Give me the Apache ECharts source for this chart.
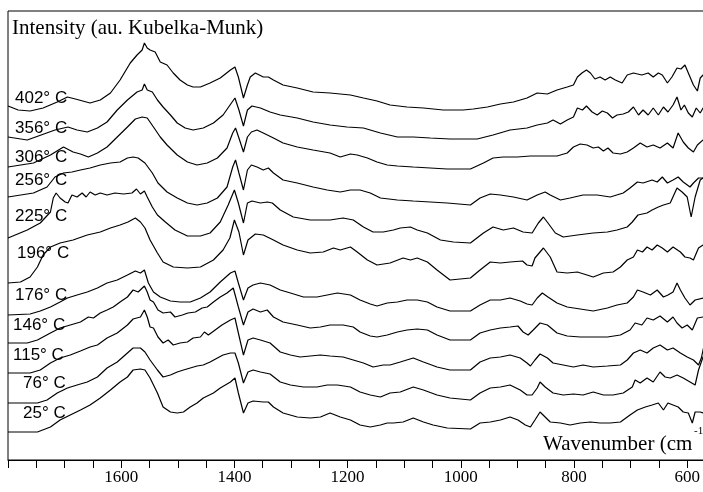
<!DOCTYPE html>
<html><head><meta charset="utf-8">
<script src="https://cdn.jsdelivr.net/npm/echarts@6/dist/echarts.min.js"></script>
<style>html,body{margin:0;padding:0;background:#fff}#c{width:703px;height:492px}</style>
</head><body><div id="c"></div>
<script>
const tempLabels = ['402° C','356° C','306° C','256° C','225° C','196° C','176° C','146° C','115° C','76° C','25° C'];
const tickLabels = [1600, 1400, 1200, 1000, 800, 600];

const s402 = [[1800,354],[1782,350],[1761,349],[1738,352],[1713,358],[1695,363],[1681,361],[1655,357],[1637,360],[1619,367],[1602,380],[1584,397],[1572,405],[1563,410],[1559,417],[1554,412],[1549,410],[1540,408],[1531,398],[1519,395],[1508,387],[1496,380],[1483,375],[1473,373],[1460,373],[1443,377],[1425,382],[1407,390],[1399,393],[1393,383],[1384,362],[1377,375],[1372,383],[1363,387],[1349,383],[1340,383],[1331,380],[1314,375],[1289,372],[1261,368],[1231,367],[1195,365],[1172,362],[1148,359],[1125,355],[1095,353],[1066,352],[1031,350],[996,350],[978,351],[953,353],[930,356],[907,358],[883,362],[865,367],[847,366],[830,370],[812,373],[801,375],[794,383],[786,387],[778,390],[771,387],[763,381],[754,383],[745,380],[736,383],[727,380],[715,377],[706,385],[695,387],[680,385],[669,387],[660,383],[651,387],[644,385],[635,377],[627,383],[618,392],[611,391],[604,395],[598,387],[589,375],[582,369],[577,382],[572,385],[565,386]];
const s356 = [[1800,323],[1766,320],[1717,330],[1694,333],[1678,330],[1660,328],[1642,332],[1625,338],[1607,350],[1589,360],[1572,368],[1563,370],[1559,376],[1554,370],[1545,368],[1536,360],[1526,353],[1513,345],[1501,337],[1487,332],[1473,330],[1455,332],[1437,337],[1420,345],[1404,358],[1399,362],[1392,350],[1384,334],[1377,350],[1369,354],[1354,352],[1337,348],[1319,345],[1289,342],[1261,338],[1231,335],[1201,333],[1172,332],[1142,327],[1112,323],[1084,323],[1054,322],[1019,321],[983,321],[971,321],[943,325],[913,330],[883,332],[865,335],[847,337],[837,340],[824,336],[812,340],[801,343],[794,352],[785,350],[778,354],[768,348],[759,345],[750,349],[741,347],[732,342],[724,345],[713,346],[704,348],[695,353],[686,345],[678,350],[669,345],[660,352],[651,345],[642,353],[634,348],[625,355],[618,363],[611,350],[605,355],[598,347],[591,343],[584,352],[577,347],[572,352],[565,353]];
const s306 = [[1800,293],[1755,297],[1725,305],[1702,313],[1685,308],[1672,306],[1658,303],[1642,307],[1625,313],[1607,323],[1589,333],[1575,341],[1563,343],[1554,342],[1543,333],[1531,323],[1519,315],[1501,305],[1483,298],[1466,295],[1448,297],[1430,302],[1413,312],[1403,327],[1398,332],[1392,322],[1384,308],[1377,323],[1370,328],[1360,330],[1349,327],[1331,322],[1314,317],[1289,313],[1261,310],[1231,307],[1213,303],[1195,306],[1183,305],[1165,302],[1148,298],[1130,295],[1112,294],[1084,293],[1054,292],[1024,291],[983,291],[960,297],[943,302],[925,303],[900,303],[877,304],[854,304],[830,304],[812,307],[801,313],[789,316],[777,315],[766,312],[757,313],[748,309],[740,312],[731,307],[718,306],[706,308],[695,312],[683,317],[671,313],[660,315],[648,312],[635,317],[625,312],[616,327],[607,318],[598,312],[589,308],[582,315],[572,320],[565,321]];
const s256 = [[1800,263],[1755,267],[1731,273],[1717,283],[1702,287],[1687,288],[1672,290],[1655,292],[1637,295],[1619,297],[1602,298],[1589,302],[1579,303],[1570,302],[1558,297],[1545,287],[1535,277],[1519,268],[1501,262],[1483,257],[1466,255],[1448,257],[1430,262],[1413,273],[1403,293],[1398,300],[1392,287],[1384,270],[1377,290],[1370,295],[1360,293],[1349,290],[1340,292],[1331,287],[1314,280],[1289,277],[1261,273],[1236,270],[1213,268],[1195,270],[1178,270],[1160,267],[1142,262],[1112,260],[1084,259],[1054,258],[1024,257],[983,255],[966,262],[948,266],[930,265],[907,263],[883,260],[865,265],[851,268],[842,265],[824,260],[807,262],[784,265],[759,265],[736,263],[713,267],[701,272],[688,278],[678,277],[662,280],[653,278],[644,283],[635,277],[625,280],[616,283],[607,278],[595,273],[589,277],[580,282],[572,282],[565,282]];
const s225 = [[1800,222],[1766,230],[1743,237],[1725,248],[1720,262],[1715,267],[1708,262],[1699,258],[1694,257],[1687,265],[1678,263],[1669,267],[1662,263],[1655,268],[1646,265],[1637,267],[1625,265],[1611,267],[1596,266],[1581,267],[1573,271],[1566,266],[1559,269],[1554,263],[1545,253],[1536,245],[1522,238],[1505,230],[1483,224],[1460,224],[1443,227],[1425,238],[1411,255],[1400,270],[1393,257],[1384,237],[1377,257],[1369,259],[1354,257],[1342,258],[1333,257],[1319,250],[1296,243],[1266,240],[1231,240],[1208,242],[1190,240],[1172,233],[1155,228],[1137,228],[1119,230],[1107,232],[1089,233],[1077,230],[1059,227],[1036,220],[1013,218],[983,217],[960,227],[943,233],[925,230],[907,232],[890,228],[874,227],[863,237],[854,243],[846,237],[833,227],[819,223],[794,225],[766,227],[741,228],[724,230],[706,233],[697,238],[687,245],[671,247],[662,250],[651,253],[642,255],[630,257],[618,272],[609,268],[600,263],[593,243],[586,263],[577,280],[572,282],[565,283]];
const s196 = [[1800,177],[1778,178],[1761,183],[1748,193],[1738,205],[1725,213],[1708,217],[1685,220],[1660,225],[1637,228],[1619,232],[1602,235],[1588,238],[1575,242],[1566,238],[1558,232],[1549,220],[1536,207],[1526,198],[1508,193],[1483,192],[1460,193],[1437,200],[1420,210],[1408,222],[1400,240],[1392,228],[1384,205],[1376,220],[1363,226],[1349,225],[1331,220],[1314,215],[1289,210],[1266,207],[1243,208],[1225,212],[1213,210],[1195,213],[1183,208],[1165,200],[1148,195],[1125,197],[1102,202],[1089,200],[1077,202],[1059,198],[1042,190],[1019,180],[983,182],[966,190],[948,198],[930,197],[913,198],[891,199],[883,195],[874,194],[869,202],[854,212],[842,203],[830,188],[812,187],[794,188],[777,185],[766,183],[748,187],[731,188],[718,193],[706,200],[695,203],[688,210],[679,208],[671,213],[662,210],[653,215],[644,212],[635,208],[625,213],[612,208],[604,203],[595,202],[589,200],[580,212],[572,215],[565,216]];
const s176 = [[1800,145],[1761,146],[1743,149],[1725,153],[1708,158],[1695,162],[1678,165],[1660,168],[1642,172],[1625,177],[1607,180],[1589,185],[1575,189],[1566,187],[1559,190],[1552,177],[1543,168],[1531,163],[1513,159],[1496,158],[1478,158],[1460,162],[1443,168],[1425,178],[1407,187],[1399,189],[1393,177],[1384,160],[1376,172],[1367,175],[1354,177],[1337,175],[1319,170],[1301,167],[1278,163],[1254,163],[1236,165],[1218,167],[1195,165],[1178,160],[1160,156],[1148,154],[1130,157],[1112,158],[1095,160],[1077,160],[1059,158],[1042,153],[1019,149],[983,149],[966,155],[948,160],[930,160],[913,162],[895,159],[883,156],[874,155],[865,162],[856,167],[846,163],[830,157],[812,153],[789,151],[766,149],[741,152],[724,155],[706,157],[695,163],[688,170],[678,168],[665,165],[653,170],[642,163],[634,165],[625,168],[618,177],[612,170],[604,162],[595,155],[586,160],[572,162],[565,162]];
const s146 = [[1800,117],[1766,117],[1748,120],[1725,127],[1708,132],[1690,135],[1672,138],[1658,143],[1649,142],[1637,147],[1625,150],[1614,153],[1602,158],[1589,163],[1579,170],[1570,168],[1559,174],[1554,168],[1549,160],[1543,158],[1535,150],[1526,147],[1513,148],[1505,143],[1492,145],[1482,147],[1469,148],[1457,152],[1448,153],[1437,158],[1425,163],[1413,167],[1402,172],[1399,170],[1393,153],[1384,135],[1376,148],[1367,151],[1354,148],[1342,150],[1331,143],[1314,138],[1289,135],[1266,132],[1248,133],[1231,135],[1208,135],[1190,133],[1178,128],[1160,124],[1148,123],[1130,125],[1112,128],[1095,130],[1077,131],[1059,130],[1042,125],[1019,120],[983,120],[966,127],[948,130],[930,132],[913,133],[899,134],[890,128],[881,125],[872,130],[860,137],[847,135],[830,127],[812,124],[789,123],[766,123],[741,123],[718,125],[701,130],[692,137],[680,135],[671,142],[660,140],[648,144],[635,138],[625,143],[618,137],[609,132],[600,135],[591,130],[582,142],[572,143],[565,143]];
const s115 = [[1800,87],[1761,87],[1743,90],[1725,97],[1708,102],[1690,105],[1672,109],[1655,113],[1642,115],[1625,122],[1607,127],[1589,135],[1579,141],[1566,143],[1559,150],[1554,143],[1549,133],[1543,132],[1535,123],[1526,117],[1517,120],[1508,115],[1496,117],[1483,118],[1473,122],[1460,123],[1453,128],[1446,125],[1434,130],[1422,135],[1407,140],[1399,142],[1393,127],[1384,105],[1376,120],[1367,122],[1354,120],[1337,117],[1319,108],[1301,105],[1284,103],[1266,104],[1248,105],[1231,104],[1208,103],[1190,100],[1172,97],[1155,93],[1137,95],[1125,95],[1107,98],[1084,102],[1066,98],[1042,93],[1019,90],[983,90],[966,98],[948,102],[930,103],[913,105],[895,102],[883,97],[877,94],[869,100],[860,106],[847,102],[837,97],[819,95],[801,93],[784,95],[766,93],[741,94],[718,95],[706,100],[695,107],[683,110],[671,107],[660,112],[648,115],[635,110],[625,112],[612,107],[600,103],[589,100],[580,95],[575,102],[572,110],[565,125]];
const s76 = [[1800,57],[1748,57],[1731,60],[1713,67],[1695,72],[1678,75],[1660,78],[1642,83],[1625,92],[1607,98],[1589,107],[1579,112],[1566,112],[1558,108],[1549,100],[1536,90],[1526,83],[1513,85],[1501,88],[1490,90],[1478,92],[1466,94],[1455,95],[1443,98],[1430,102],[1420,105],[1407,107],[1399,107],[1393,97],[1384,77],[1376,88],[1367,90],[1354,88],[1337,86],[1319,78],[1301,75],[1278,73],[1254,73],[1236,75],[1218,75],[1195,73],[1178,68],[1160,65],[1142,63],[1125,67],[1107,68],[1084,73],[1066,70],[1042,65],[1019,62],[983,60],[966,67],[948,72],[930,73],[913,75],[895,70],[883,65],[874,65],[865,72],[860,78],[851,73],[837,67],[819,65],[801,66],[784,65],[766,68],[748,65],[731,65],[713,67],[697,73],[692,80],[683,77],[671,82],[660,78],[648,88],[639,83],[630,82],[618,85],[607,82],[595,78],[586,75],[580,90],[572,103],[565,110]];
const s25 = [[1800,28],[1748,28],[1725,33],[1708,40],[1690,45],[1672,50],[1655,55],[1637,62],[1619,70],[1602,78],[1589,83],[1579,90],[1566,91],[1558,90],[1549,82],[1536,67],[1526,53],[1513,48],[1501,47],[1490,48],[1478,53],[1466,57],[1455,62],[1437,67],[1425,72],[1407,78],[1399,82],[1393,67],[1384,47],[1376,57],[1367,59],[1349,58],[1340,58],[1331,53],[1314,47],[1289,43],[1266,42],[1248,43],[1231,47],[1213,43],[1195,40],[1178,35],[1160,33],[1142,35],[1130,37],[1119,37],[1102,38],[1084,42],[1066,38],[1049,35],[1024,32],[983,31],[966,37],[948,38],[930,40],[913,43],[899,40],[886,35],[877,33],[869,40],[860,48],[851,43],[842,38],[824,37],[807,35],[789,37],[771,38],[754,37],[736,37],[718,38],[701,45],[688,50],[674,53],[662,55],[651,57],[642,50],[634,57],[625,55],[616,53],[607,48],[598,47],[591,37],[586,48],[577,48],[572,47],[565,47]];

const spectra = [s402, s356, s306, s256, s225, s196, s176, s146, s115, s76, s25];
// label anchor positions (pixels) for temperature labels
const labelPos = [[15,98],[15,128],[15,157],[15,180],[15,216],[17,253],[15,295],[13,325],[13,355],[23,383],[23,413]];

const chart = echarts.init(document.getElementById('c'), null, {renderer:'canvas'});
const serif = '"Liberation Serif", "Times New Roman", serif';
const graphics = tempLabels.map((t, i) => ({
  type:'text', x: labelPos[i][0], y: labelPos[i][1], z: 100,
  style:{text:t, fontSize:17, fontFamily:'"Liberation Sans", Arial, sans-serif', fill:'#000', verticalAlign:'middle', align:'left'}
}));
graphics.push({type:'text', x:12, y:28, z:100, style:{text:'Intensity (au. Kubelka-Munk)', fontSize:21, fontFamily:serif, fill:'#000', verticalAlign:'middle'}});
graphics.push({type:'text', x:543, y:444, z:100, style:{text:'Wavenumber (cm', fontSize:21, fontFamily:serif, fill:'#000', verticalAlign:'middle'}});
graphics.push({type:'text', x:694, y:431, z:100, style:{text:'-1', fontSize:11, fontFamily:serif, fill:'#000', verticalAlign:'middle'}});
graphics.push({type:'text', x:706, y:444, z:100, style:{text:')', fontSize:21, fontFamily:serif, fill:'#000', verticalAlign:'middle'}});

chart.setOption({
  animation:false,
  grid:{left:8, width:707.5, top:11, bottom:32, show:true, borderColor:'#000', borderWidth:1, backgroundColor:'transparent', containLabel:false, outerBoundsMode:'none'},
  xAxis:{
    type:'value', inverse:true, min:550, max:1800, interval:50,
    axisLine:{show:true, lineStyle:{color:'#000', width:1}},
    axisTick:{show:true, inside:false, length:8, lineStyle:{color:'#000', width:1}},
    axisLabel:{
      color:'#000', fontSize:17, fontFamily:serif, margin:9,
      formatter: v => tickLabels.indexOf(v) >= 0 ? String(v) : ''
    },
    splitLine:{show:false}
  },
  yAxis:{type:'value', min:0, max:449, show:false},
  series: spectra.map((d, i) => ({
    type:'line', name:tempLabels[i], data:d, symbol:'none', showSymbol:false, silent:true,
    lineStyle:{color:'#000', width:1.2}
  })),
  graphic: graphics
});
</script>
</body></html>
